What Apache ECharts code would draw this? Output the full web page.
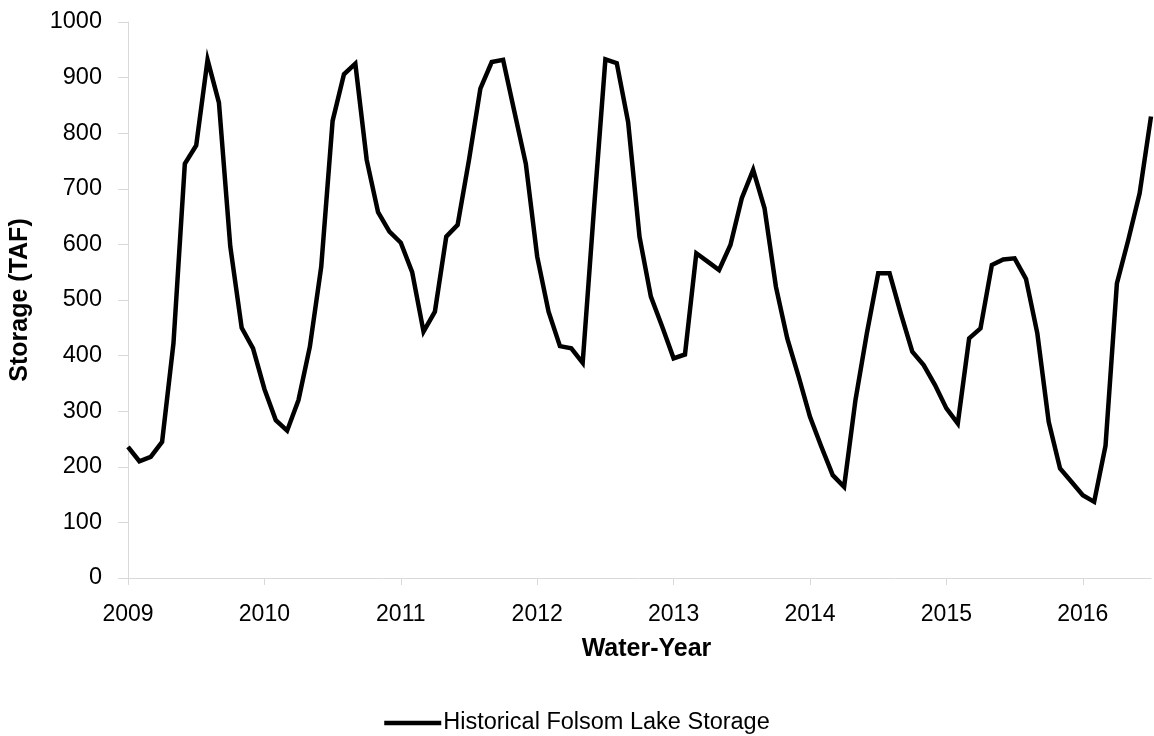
<!DOCTYPE html>
<html>
<head>
<meta charset="utf-8">
<script src="https://cdn.jsdelivr.net/npm/echarts@6/dist/echarts.min.js"></script>
<style>
html,body{margin:0;padding:0;background:#fff;}
#chart{width:1154px;height:736px;}
</style>
</head>
<body>
<div id="chart"></div>
<script>
var months = [
"2009-01","2009-02","2009-03","2009-04","2009-05","2009-06","2009-07","2009-08","2009-09","2009-10","2009-11","2009-12",
"2010-01","2010-02","2010-03","2010-04","2010-05","2010-06","2010-07","2010-08","2010-09","2010-10","2010-11","2010-12",
"2011-01","2011-02","2011-03","2011-04","2011-05","2011-06","2011-07","2011-08","2011-09","2011-10","2011-11","2011-12",
"2012-01","2012-02","2012-03","2012-04","2012-05","2012-06","2012-07","2012-08","2012-09","2012-10","2012-11","2012-12",
"2013-01","2013-02","2013-03","2013-04","2013-05","2013-06","2013-07","2013-08","2013-09","2013-10","2013-11","2013-12",
"2014-01","2014-02","2014-03","2014-04","2014-05","2014-06","2014-07","2014-08","2014-09","2014-10","2014-11","2014-12",
"2015-01","2015-02","2015-03","2015-04","2015-05","2015-06","2015-07","2015-08","2015-09","2015-10","2015-11","2015-12",
"2016-01","2016-02","2016-03","2016-04","2016-05","2016-06","2016-07"
];
var storage = [
236,210,218,245,422,745,778,932,855,596,450,413,
340,284,265,320,416,560,822,906,925,752,658,623,
603,550,443,479,614,635,752,880,928,932,838,745,
578,479,417,413,387,665,933,926,820,614,506,452,
395,402,584,569,554,599,683,734,665,524,431,362,
290,236,185,164,320,440,548,548,475,407,383,347,
305,278,431,449,563,573,575,538,440,281,197,173,
149,137,238,530,608,692,830
];
var seriesName = "Historical Folsom Lake Storage";
var xTitle = "Water-Year";
var yTitle = "Storage (TAF)";

var font = "'Liberation Sans', Arial, sans-serif";
var chart = echarts.init(document.getElementById('chart'), null, {renderer:'canvas'});
chart.setOption({
  animation:false,
  backgroundColor:'#fff',
  textStyle:{fontFamily:font},
  grid:{left:127, right:3, top:22, bottom:158, containLabel:false},
  legend:{
    data:[seriesName],
    top:706,
    left:'center',
    itemWidth:57,
    itemHeight:14,
    textStyle:{fontSize:23.5, color:'#000', fontFamily:font, padding:[0,0,0,-3]},
    icon:'path://M0,5.5 L57,5.5 L57,10 L0,10 Z'
  },
  xAxis:{
    type:'category',
    data:months,
    boundaryGap:false,
    name:xTitle,
    nameLocation:'middle',
    nameGap:59,
    nameTextStyle:{fontSize:25, fontWeight:'bold', color:'#000', fontFamily:font, padding:[0,0,0,14]},
    axisLine:{lineStyle:{color:'#d9d9d9', width:1}},
    axisTick:{interval:11, length:7, lineStyle:{color:'#d9d9d9'}},
    axisLabel:{interval:11, fontSize:23, color:'#000', margin:25, fontFamily:font,
      formatter:function(v){return v.slice(0,4);}},
    splitLine:{show:false}
  },
  yAxis:{
    type:'value',
    min:0, max:1000, interval:100,
    name:yTitle,
    nameLocation:'middle',
    nameGap:95,
    nameTextStyle:{fontSize:25, fontWeight:'bold', color:'#000', fontFamily:font},
    axisLine:{show:true, lineStyle:{color:'#d9d9d9', width:1}},
    axisTick:{show:true, length:10, lineStyle:{color:'#d9d9d9'}},
    axisLabel:{fontSize:23.5, color:'#000', margin:26, fontFamily:font,
      formatter:function(v){return String(v);}},
    splitLine:{show:false}
  },
  series:[{
    name:seriesName,
    type:'line',
    data:storage,
    symbol:'none',
    lineStyle:{color:'#000', width:4.5, join:'miter'},
    itemStyle:{color:'#000'}
  }]
});
</script>
</body>
</html>
